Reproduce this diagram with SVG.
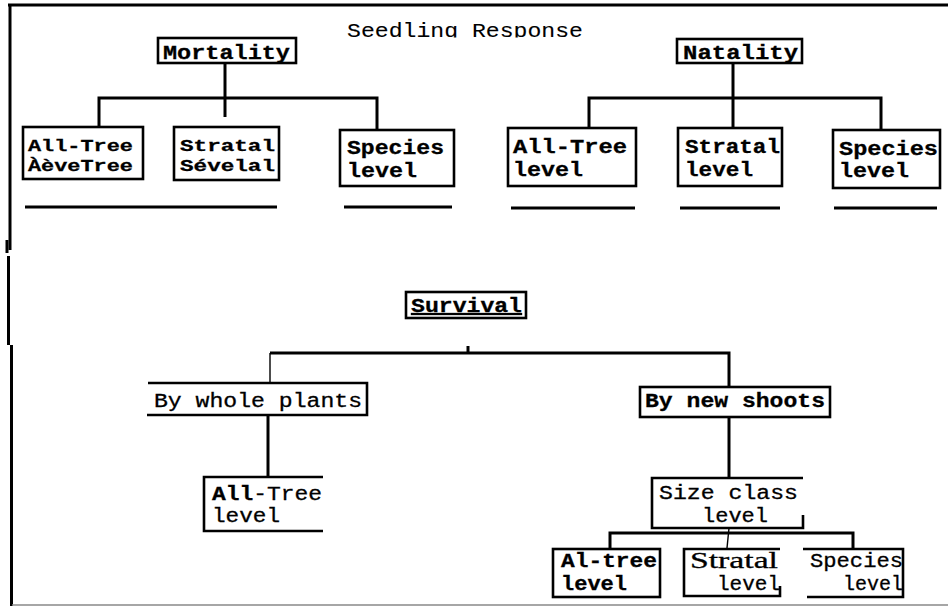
<svg xmlns="http://www.w3.org/2000/svg" width="948" height="606" viewBox="0 0 948 606">
<defs>
<style>
.bx{fill:none;stroke:#000;stroke-width:2.6}
.ln{fill:none;stroke:#000;stroke-width:3}
.th{fill:none;stroke:#000;stroke-width:1.4}
.t{font-family:"Liberation Mono","DejaVu Sans Mono",monospace;font-size:20px;fill:#000;stroke:#000;stroke-width:0.3}
.sm{font-size:17px}
.b{font-weight:bold}
.s{font-family:"Liberation Serif","DejaVu Serif",serif;font-size:23px;fill:#000;stroke:#000;stroke-width:0.3}
</style>
<clipPath id="tc"><rect x="0" y="0" width="948" height="37.5"/></clipPath>
</defs>
<rect width="948" height="606" fill="#fff"/>
<g id="frame">
<line x1="8" y1="5" x2="948" y2="5" stroke="#000" stroke-width="3"/>
<line x1="10" y1="4" x2="10" y2="250" stroke="#000" stroke-width="3"/>
<line x1="7" y1="240" x2="7" y2="253" stroke="#000" stroke-width="3"/>
<line x1="8.5" y1="256" x2="8.5" y2="345" stroke="#000" stroke-width="3"/>
<line x1="11.5" y1="345" x2="11.5" y2="606" stroke="#000" stroke-width="3"/>
<line x1="12" y1="605" x2="948" y2="605" stroke="#888" stroke-width="1.5"/>
</g>
<text id="title" class="t" x="347" y="37" textLength="236" lengthAdjust="spacingAndGlyphs" clip-path="url(#tc)" style="stroke-width:0.1">Seedling Response</text>
<g id="connectors">
<path class="ln" d="M225 63V117"/>
<path class="ln" d="M99 127V98H377V130"/>
<path class="ln" d="M733 63V128"/>
<path class="ln" d="M589 128V98H881V130"/>
<path class="ln" d="M270 353H729V387"/>
<path class="th" d="M270 353V383"/>
<path class="ln" d="M468 346V353"/>
<path class="ln" d="M268 415V477" stroke-width="3.5"/>
<path class="ln" d="M729 417V478"/>
<path class="ln" d="M610 548V533H853V548"/>
<path class="th" d="M729 528L727 548"/>
</g>
<g id="underlines">
<path class="ln" d="M25 207H277M344 207H452M511 208H635M680 208H780M834 208H937"/>
</g>
<g id="mortality">
<rect class="bx" x="158" y="38" width="138" height="25"/>
<text class="t b" x="163" y="59" textLength="127" lengthAdjust="spacingAndGlyphs">Mortality</text>
</g>
<g id="natality">
<rect class="bx" x="677" y="39" width="125" height="24"/>
<text class="t b" x="683" y="59" textLength="115" lengthAdjust="spacingAndGlyphs">Natality</text>
</g>
<g id="m-alltree">
<rect class="bx" x="23" y="127" width="120" height="52"/>
<text class="t b sm" x="28" y="151" textLength="105" lengthAdjust="spacingAndGlyphs">All-Tree</text>
<text class="t b sm" x="28" y="171" textLength="105" lengthAdjust="spacingAndGlyphs">ÀèveTree</text>
</g>
<g id="m-stratal">
<rect class="bx" x="174" y="127" width="105" height="53"/>
<text class="t b sm" x="180" y="151" textLength="95" lengthAdjust="spacingAndGlyphs">Stratal</text>
<text class="t b sm" x="180" y="171" textLength="95" lengthAdjust="spacingAndGlyphs">Sévelal</text>
</g>
<g id="m-species">
<rect class="bx" x="340" y="130" width="114" height="56"/>
<text class="t b" x="347" y="154" textLength="97" lengthAdjust="spacingAndGlyphs">Species</text>
<text class="t b" x="347" y="177" textLength="70" lengthAdjust="spacingAndGlyphs">level</text>
</g>
<g id="n-alltree">
<rect class="bx" x="508" y="128" width="128" height="58"/>
<text class="t b" x="513" y="153" textLength="114" lengthAdjust="spacingAndGlyphs">All-Tree</text>
<text class="t b" x="513" y="176" textLength="70" lengthAdjust="spacingAndGlyphs">level</text>
</g>
<g id="n-stratal">
<rect class="bx" x="678" y="128" width="104" height="58"/>
<text class="t b" x="685" y="153" textLength="95" lengthAdjust="spacingAndGlyphs">Stratal</text>
<text class="t b" x="685" y="176" textLength="68" lengthAdjust="spacingAndGlyphs">level</text>
</g>
<g id="n-species">
<rect class="bx" x="833" y="130" width="107" height="58"/>
<text class="t b" x="839" y="155" textLength="99" lengthAdjust="spacingAndGlyphs">Species</text>
<text class="t b" x="839" y="177" textLength="70" lengthAdjust="spacingAndGlyphs">level</text>
</g>
<g id="survival">
<rect class="bx" x="406" y="292" width="120" height="26"/>
<text class="t b" x="411" y="312" textLength="111" lengthAdjust="spacingAndGlyphs" text-decoration="underline">Survival</text>
</g>
<g id="whole-plants">
<path class="bx" d="M148 383H367V415H147"/>
<text class="t" x="154" y="407" textLength="208" lengthAdjust="spacingAndGlyphs">By whole plants</text>
</g>
<g id="wp-alltree">
<path class="bx" d="M323 477H204V531H323"/>
<text class="t" x="212" y="500" textLength="110" lengthAdjust="spacingAndGlyphs"><tspan class="b">All</tspan>-Tree</text>
<text class="t" x="212" y="522" textLength="68" lengthAdjust="spacingAndGlyphs">level</text>
</g>
<g id="new-shoots">
<rect class="bx" x="640" y="387" width="190" height="30"/>
<text class="t b" x="645" y="407" textLength="180" lengthAdjust="spacingAndGlyphs">By new shoots</text>
</g>
<g id="size-class">
<path class="bx" d="M803 478H652V528H803V515"/>
<text class="t" x="659" y="499" textLength="139" lengthAdjust="spacingAndGlyphs">Size class</text>
<text class="t" x="702" y="522" textLength="66" lengthAdjust="spacingAndGlyphs">level</text>
</g>
<g id="sc-altree">
<rect class="bx" x="553" y="549" width="107" height="48"/>
<text class="t b" x="561" y="567" textLength="96" lengthAdjust="spacingAndGlyphs">Al-tree</text>
<text class="t b" x="561" y="590" textLength="66" lengthAdjust="spacingAndGlyphs">level</text>
</g>
<g id="sc-stratal">
<path class="bx" d="M780 549H684V596H780V586"/>
<text class="s" x="690" y="568" textLength="88" lengthAdjust="spacingAndGlyphs">Stratal</text>
<text class="t" x="717" y="590" textLength="63" lengthAdjust="spacingAndGlyphs">level</text>
</g>
<g id="sc-species">
<path class="bx" d="M803 549H903V597H807"/>
<text class="t" x="810" y="567" textLength="93" lengthAdjust="spacingAndGlyphs">Species</text>
<text class="t" x="843" y="590" textLength="60" lengthAdjust="spacingAndGlyphs">level</text>
</g>
</svg>
